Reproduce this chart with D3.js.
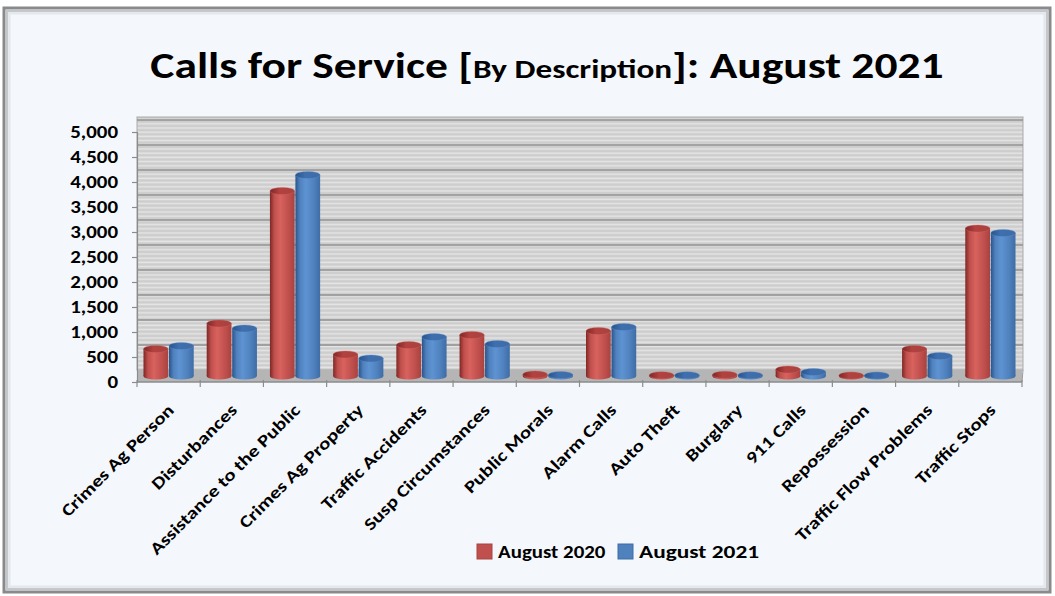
<!DOCTYPE html>
<html>
<head>
<meta charset="utf-8">
<script src="https://cdn.jsdelivr.net/npm/d3@7"></script>
<style>
  html, body { margin: 0; padding: 0; background: #ffffff; }
  svg { display: block; font-family: Carlito, Calibri, Lato, "Open Sans", sans-serif; font-weight: bold; }
</style>
</head>
<body>
<svg id="chart" width="1055" height="596"></svg>
<script>
// ---- data ----
const categories = [
  "Crimes Ag Person", "Disturbances", "Assistance to the Public", "Crimes Ag Property",
  "Traffic Accidents", "Susp Circumstances", "Public Morals", "Alarm Calls",
  "Auto Theft", "Burglary", "911 Calls", "Repossession", "Traffic Flow Problems", "Traffic Stops"
];
const seriesNames = ["August 2020", "August 2021"];
const aug2020 = [540, 1050, 3700, 430, 620, 820, 30, 900, 15, 25, 130, 10, 540, 2950];
const aug2021 = [600, 950, 4020, 350, 780, 640, 20, 980, 15, 15, 80, 10, 400, 2860];
const yTicks = [0, 500, 1000, 1500, 2000, 2500, 3000, 3500, 4000, 4500, 5000];
const titleParts = [
  { t: "Calls for Service [", small: false },
  { t: "By Description", small: true },
  { t: "]: August 2021", small: false }
];

const seriesColors = {
  "August 2020": { dark: "#7e2725", base: "#c0504d", light: "#d8625e", edge: "#a8423f", top: "#b2423f", swatch: "#c0504d" },
  "August 2021": { dark: "#28548c", base: "#4f81bd", light: "#5e93d2", edge: "#3e6ca6", top: "#3f6fae", swatch: "#4f81bd" }
};

// ---- layout ----
const W = 1055, H = 596;
const plotLeft = 137, plotRight = 1022;
const wallDepth = 12;           // vertical shift of the back wall
const barDepth = wallDepth / 2; // columns stand mid-way on the floor
const stretch = 1.23;           // wide lettering used throughout the chart

const svg = d3.select("#chart");
const defs = svg.append("defs");

// chart frame
svg.append("rect").attr("x", 4).attr("y", 8).attr("width", 1046).attr("height", 584)
  .attr("fill", "#f4f8fc").attr("stroke", "#8a8a8a").attr("stroke-width", 3);
svg.append("rect").attr("x", 7).attr("y", 11).attr("width", 1040).attr("height", 578)
  .attr("fill", "none").attr("stroke", "#c4c8cc").attr("stroke-width", 2.5);
svg.append("rect").attr("x", 9.5).attr("y", 13.5).attr("width", 1035).attr("height", 573)
  .attr("fill", "none").attr("stroke", "#e3e8ed").attr("stroke-width", 2);

// scales
const y = d3.scaleLinear().domain([0, 5000]).range([382, 132]);
const x0 = d3.scaleBand().domain(categories).range([plotLeft, plotRight]);
const x1 = d3.scaleBand().domain(seriesNames).range([6.5, x0.bandwidth() - 6.5]).paddingInner(0.03);

// striped back wall
const pat = defs.append("pattern").attr("id", "stripes").attr("patternUnits", "userSpaceOnUse")
  .attr("x", 0).attr("y", 0).attr("width", 8).attr("height", 4.2);
pat.append("rect").attr("width", 8).attr("height", 4.2).attr("fill", "#cdcdcd");
pat.append("rect").attr("y", 1.2).attr("width", 8).attr("height", 1.6).attr("fill", "#e4e4e4");

const wallTop = y(5000) - wallDepth - 3;
const wallBottom = y(0) - wallDepth;
svg.append("rect").attr("x", plotLeft).attr("y", wallTop)
  .attr("width", plotRight + 1 - plotLeft).attr("height", wallBottom - wallTop)
  .attr("fill", "url(#stripes)").attr("stroke", "#a9a9a9").attr("stroke-width", 1);

// gridlines on the back wall
svg.append("g").selectAll("line").data(yTicks.filter(d => d > 0)).join("line")
  .attr("x1", plotLeft).attr("x2", plotRight + 1)
  .attr("y1", d => y(d) - wallDepth).attr("y2", d => y(d) - wallDepth)
  .attr("stroke", "#8f8f8f").attr("stroke-width", 1.6);

// floor
svg.append("rect").attr("x", plotLeft).attr("y", wallBottom)
  .attr("width", plotRight - plotLeft).attr("height", y(0) - wallBottom)
  .attr("fill", "#b5b5b5");
svg.append("line").attr("x1", plotLeft).attr("x2", plotRight)
  .attr("y1", y(0)).attr("y2", y(0)).attr("stroke", "#8c8c8c").attr("stroke-width", 1.5);
svg.append("line").attr("x1", plotRight).attr("x2", plotRight + 1)
  .attr("y1", y(0)).attr("y2", wallBottom).attr("stroke", "#9a9a9a").attr("stroke-width", 1);

// y axis
const yAxis = d3.axisLeft(y).tickValues(yTicks).tickSize(5).tickPadding(0)
  .tickFormat(d3.format(","));
const gy = svg.append("g").attr("transform", `translate(${plotLeft},0)`).call(yAxis);
gy.select(".domain").attr("stroke", "#8c8c8c").attr("stroke-width", 1.2);
gy.selectAll(".tick line").attr("stroke", "#8c8c8c").attr("stroke-width", 1.2);
gy.selectAll(".tick text").attr("x", 0).attr("fill", "#000")
  .attr("transform", `translate(-19,0) scale(${stretch},1)`)
  .style("font-size", "17px")
  .style("font-family", "Carlito, Calibri, Lato, sans-serif").style("font-weight", "bold");

// x axis ticks at category boundaries
const gx = svg.append("g");
const bounds = categories.map(c => x0(c)).concat([plotRight]);
gx.selectAll("line.major").data(bounds).join("line").attr("class", "major")
  .attr("x1", d => d).attr("x2", d => d).attr("y1", y(0) - 2).attr("y2", y(0) + 5)
  .attr("stroke", "#8c8c8c").attr("stroke-width", 1.2);

// gradients for cylinder bodies and tops
seriesNames.forEach((s, i) => {
  const c = seriesColors[s];
  const g = defs.append("linearGradient").attr("id", "body" + i)
    .attr("x1", "0%").attr("x2", "100%").attr("y1", "0%").attr("y2", "0%");
  [[0, c.dark], [0.18, c.base], [0.42, c.light], [0.75, c.base], [1, c.edge]]
    .forEach(([o, col]) => g.append("stop").attr("offset", o).attr("stop-color", col));
  const t = defs.append("linearGradient").attr("id", "top" + i)
    .attr("x1", "0%").attr("x2", "100%").attr("y1", "0%").attr("y2", "0%");
  [[0, c.dark], [0.4, c.top], [1, c.edge]]
    .forEach(([o, col]) => t.append("stop").attr("offset", o).attr("stop-color", col));
});

// cylinders
const seriesValues = [aug2020, aug2021];
const rows = [];
categories.forEach((cat, ci) => {
  seriesNames.forEach((s, si) => rows.push({ cat, s, si, v: seriesValues[si][ci] }));
});
const ry = 3.6;
const bars = svg.append("g").selectAll("g").data(rows).join("g");
bars.each(function (d) {
  const g = d3.select(this);
  const bw = x1.bandwidth();
  const cx = x0(d.cat) + x1(d.s) + bw / 2;
  const topY = y(d.v) - barDepth;
  const botY = y(0) - barDepth;
  g.append("ellipse").attr("cx", cx).attr("cy", botY).attr("rx", bw / 2).attr("ry", ry)
    .attr("fill", `url(#body${d.si})`);
  g.append("rect").attr("x", cx - bw / 2).attr("y", topY).attr("width", bw)
    .attr("height", Math.max(0, botY - topY)).attr("fill", `url(#body${d.si})`);
  g.append("ellipse").attr("cx", cx).attr("cy", topY).attr("rx", bw / 2).attr("ry", ry)
    .attr("fill", `url(#top${d.si})`).attr("stroke", seriesColors[d.s].light)
    .attr("stroke-width", 0.6).attr("stroke-opacity", 0.6);
});

// category labels
svg.append("g").selectAll("text").data(categories).join("text")
  .attr("transform", d => `translate(${x0(d) + x0.bandwidth() / 2 + 2},${y(0) + 25}) rotate(-45) scale(${stretch},1)`)
  .attr("text-anchor", "end").attr("dy", "0.35em")
  .style("font-size", "17px").attr("fill", "#000")
  .text(d => d);

// title
const title = svg.append("text")
  .attr("transform", `translate(547,78) scale(${stretch},1)`)
  .attr("text-anchor", "middle").attr("fill", "#000").style("font-size", "37px");
titleParts.forEach(p => {
  const ts = title.append("tspan").text(p.t);
  if (p.small) ts.style("font-size", "27px");
});

// legend
const legend = svg.append("g");
const legendItems = [
  { s: "August 2020", x: 477, tx: 498, size: 17 },
  { s: "August 2021", x: 618, tx: 639, size: 19 }
];
legendItems.forEach(it => {
  legend.append("rect").attr("x", it.x).attr("y", 544).attr("width", 15).attr("height", 15)
    .attr("fill", seriesColors[it.s].swatch).attr("stroke", seriesColors[it.s].edge).attr("stroke-width", 1);
  legend.append("text").attr("transform", `translate(${it.tx},558) scale(${stretch},1)`)
    .style("font-size", it.size + "px").attr("fill", "#000").text(it.s);
});
</script>
</body>
</html>
